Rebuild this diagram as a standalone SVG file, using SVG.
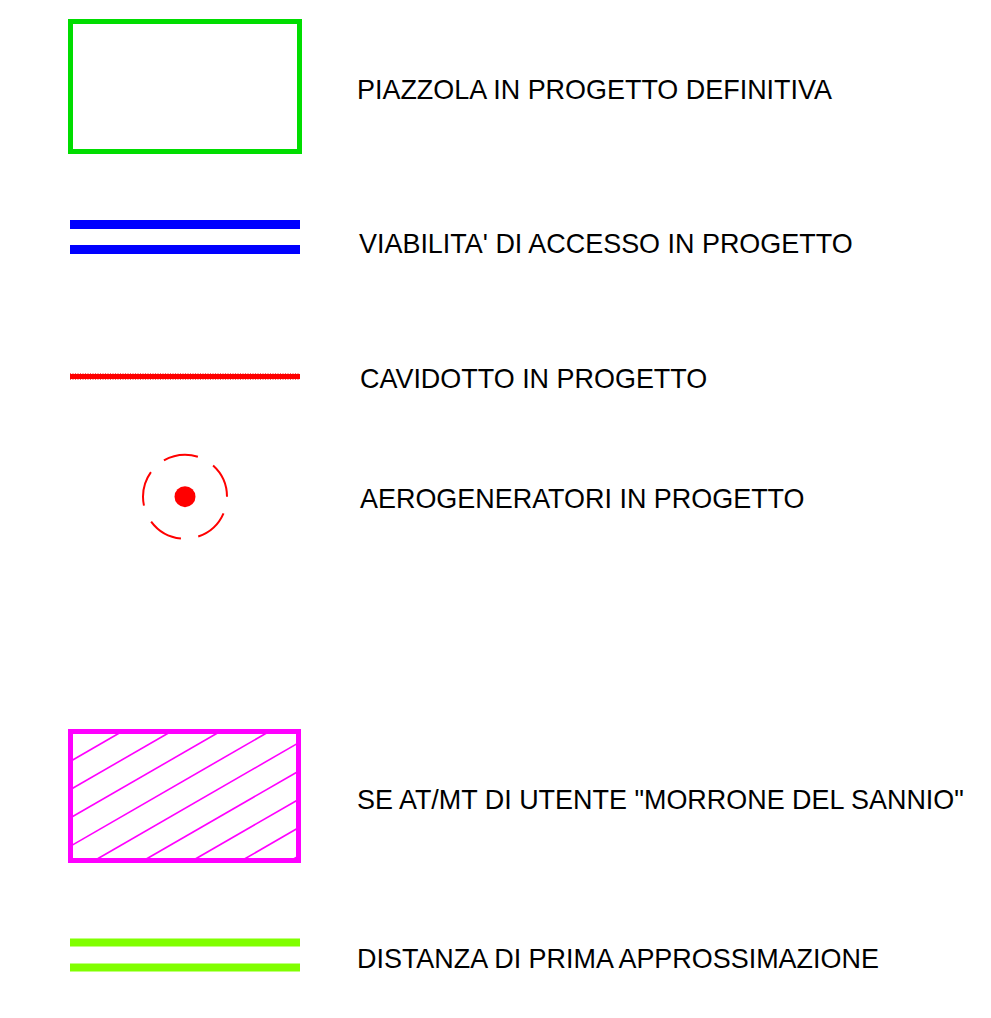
<svg xmlns="http://www.w3.org/2000/svg" width="991" height="1018" viewBox="0 0 991 1018">
<style>
text{font-family:"Liberation Sans",Arial,sans-serif;font-size:26.95px;fill:#000}
.hatch{stroke:#ff00ff;stroke-width:1.6;fill:none}
</style>
<rect width="991" height="1018" fill="#fff"/>
<g id="piazzola">
<rect x="70.5" y="21.5" width="229" height="130" fill="none" stroke="#00dd00" stroke-width="5"/>
<text x="357" y="99.3">PIAZZOLA IN PROGETTO DEFINITIVA</text>
</g>
<g id="viabilita">
<line x1="70" y1="224.5" x2="300" y2="224.5" stroke="#0000ff" stroke-width="9"/>
<line x1="70" y1="249.5" x2="300" y2="249.5" stroke="#0000ff" stroke-width="9"/>
<text x="359" y="253.3">VIABILITA' DI ACCESSO IN PROGETTO</text>
</g>
<g id="cavidotto">
<line x1="70" y1="376.5" x2="300" y2="376.5" stroke="#ff0000" stroke-width="5"/>
<line x1="70" y1="376.5" x2="300" y2="376.5" stroke="#ff0000" stroke-width="7" stroke-dasharray="1 1.5" opacity="0.6"/>
<text x="360" y="388.3">CAVIDOTTO IN PROGETTO</text>
</g>
<g id="aerogeneratori">
<circle cx="185" cy="496.7" r="42" fill="none" stroke="#ff0000" stroke-width="2" stroke-dasharray="35.19 17.59" stroke-dashoffset="-17.2"/>
<circle cx="185" cy="496.7" r="10.5" fill="#ff0000"/>
<text x="360" y="508.3">AEROGENERATORI IN PROGETTO</text>
</g>
<g id="se-utente">
<g class="hatch">
<line x1="70.5" y1="761.2" x2="122.0" y2="731.5"/>
<line x1="70.5" y1="789.5" x2="171.1" y2="731.5"/>
<line x1="70.5" y1="817.8" x2="220.1" y2="731.5"/>
<line x1="70.5" y1="846.1" x2="269.2" y2="731.5"/>
<line x1="94.6" y1="860.5" x2="298.5" y2="742.9"/>
<line x1="143.7" y1="860.5" x2="298.5" y2="771.2"/>
<line x1="192.7" y1="860.5" x2="298.5" y2="799.5"/>
<line x1="241.8" y1="860.5" x2="298.5" y2="827.8"/>
<line x1="290.8" y1="860.5" x2="298.5" y2="856.1"/>
</g>
<rect x="70.5" y="731.5" width="228" height="129" fill="none" stroke="#ff00ff" stroke-width="5"/>
<text x="357" y="809.3">SE AT/MT DI UTENTE "MORRONE DEL SANNIO"</text>
</g>
<g id="distanza">
<line x1="70" y1="942.5" x2="300" y2="942.5" stroke="#80ff00" stroke-width="8"/>
<line x1="70" y1="967.5" x2="300" y2="967.5" stroke="#80ff00" stroke-width="8"/>
<text x="357" y="968.3">DISTANZA DI PRIMA APPROSSIMAZIONE</text>
</g>
<g id="connectors"/>
</svg>
